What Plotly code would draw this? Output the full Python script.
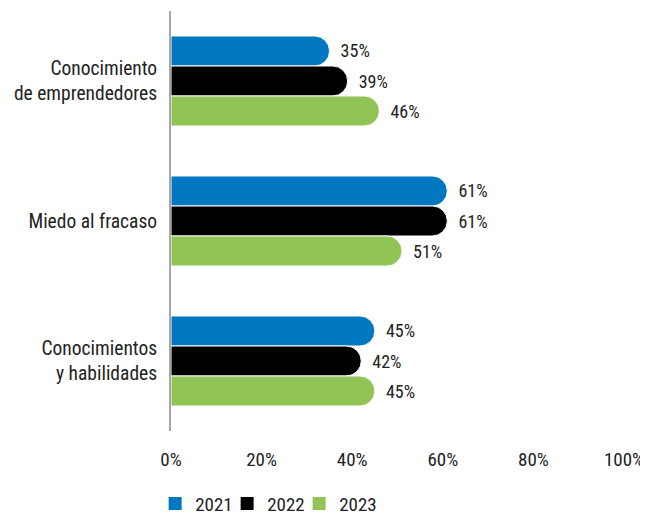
import plotly.graph_objects as go

categories = ["Conocimiento<br>de emprendedores", "Miedo al fracaso", "Conocimientos<br>y habilidades"]
years = ["2021", "2022", "2023"]
v2021 = [35, 61, 45]
v2022 = [39, 61, 42]
v2023 = [46, 51, 45]
colors = ["#0078C1", "#000000", "#92C355"]
tick_vals = [0, 20, 40, 60, 80, 100]
tick_text = ["0%", "20%", "40%", "60%", "80%", "100%"]

FONT = "Roboto Condensed, Liberation Sans Narrow, Roboto, sans-serif"

fig = go.Figure()
for name, vals, col in zip(years, [v2021, v2022, v2023], colors):
    fig.add_trace(go.Bar(
        y=categories, x=vals, name=name, orientation="h",
        marker=dict(color=col, line=dict(color="white", width=1)),
        text=[f"\u2002{v}%" for v in vals], textposition="outside",
        textfont=dict(size=18, color="#222222", family=FONT),
        constraintext="none",
        cliponaxis=False, showlegend=False,
    ))
# legend entries with square swatches
for i, (name, col) in enumerate(zip(years, colors)):
    fig.add_trace(go.Scatter(
        x=[None], y=[None], mode="markers", name=name,
        marker=dict(symbol="square", size=13, color=col),
        legendwidth=27 if i < len(years) - 1 else 42,
    ))

# page body has an 8px margin, so the figure is sized 8px smaller
fig.update_layout(
    width=640, height=511,
    margin=dict(l=163, r=24, t=3, b=88),
    barmode="group", bargap=0.357, bargroupgap=0,
    barcornerradius=15,
    plot_bgcolor="white", paper_bgcolor="white",
    font=dict(family=FONT, size=18, color="#222222"),
    showlegend=True,
    legend=dict(orientation="h", x=-0.035, xanchor="left",
                yref="container", y=0.03, yanchor="middle",
                font=dict(size=19, color="#222222"), itemwidth=30,
                entrywidthmode="pixels"),
    xaxis=dict(range=[0, 100], tickvals=tick_vals, ticktext=tick_text,
               showgrid=False, zeroline=False, showline=False, ticks="",
               tickfont=dict(size=19), ticklabelstandoff=15, automargin=False),
    yaxis=dict(autorange="reversed", showgrid=False, zeroline=False,
               showline=True, linecolor="#A6A6A6", linewidth=2, ticks="",
               tickfont=dict(size=19.5), ticklabelstandoff=8, automargin=False),
)

fig.write_html("out.html")
